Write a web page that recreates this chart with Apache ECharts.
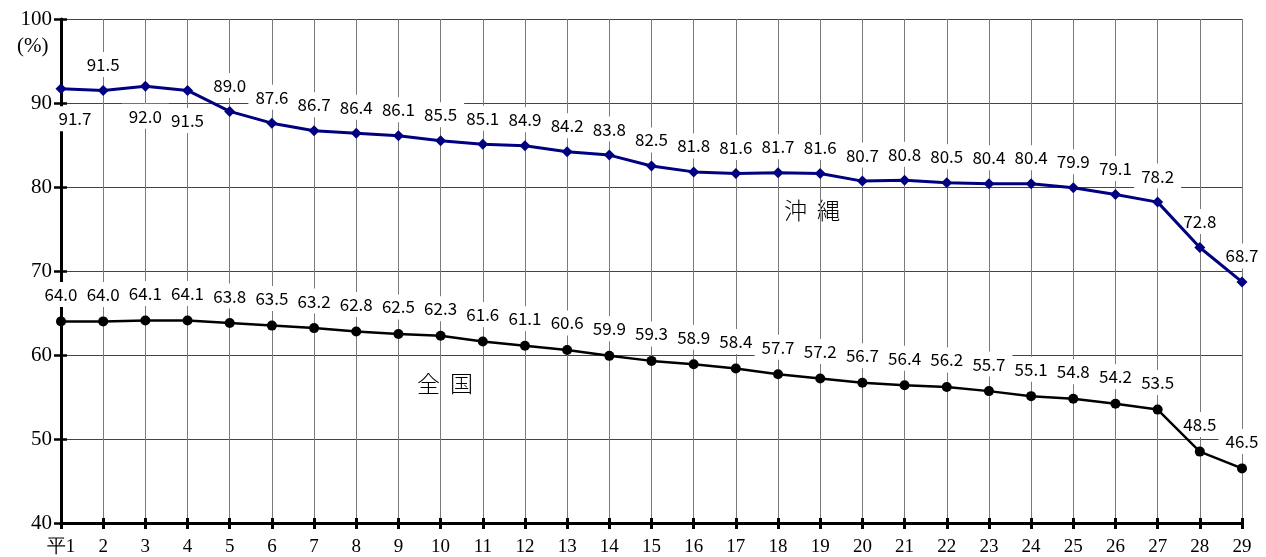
<!DOCTYPE html>
<html><head><meta charset="utf-8">
<script src="https://cdn.jsdelivr.net/npm/echarts@6/dist/echarts.min.js"></script>
<style>html,body{margin:0;padding:0;background:#fff}#c{width:1266px;height:557px}</style>
</head><body><div id="c"></div>
<script>
const categories = ['平1','2','3','4','5','6','7','8','9','10','11','12','13','14','15','16','17','18','19','20','21','22','23','24','25','26','27','28','29'];
const okinawa = [91.7,91.5,92.0,91.5,89.0,87.6,86.7,86.4,86.1,85.5,85.1,84.9,84.2,83.8,82.5,81.8,81.6,81.7,81.6,80.7,80.8,80.5,80.4,80.4,79.9,79.1,78.2,72.8,68.7];
const zenkoku = [64.0,64.0,64.1,64.1,63.8,63.5,63.2,62.8,62.5,62.3,61.6,61.1,60.6,59.9,59.3,58.9,58.4,57.7,57.2,56.7,56.4,56.2,55.7,55.1,54.8,54.2,53.5,48.5,46.5];
const yTicks = {min:40, max:100, interval:10};
const seriesNames = ['沖  縄','全  国'];

const belowIdx = [0,2,3];
const labelBase = {show:true, fontFamily:'Noto Sans CJK JP', fontSize:17, color:'#000', backgroundColor:'#fff', padding:[4,7], formatter:p=>p.value.toFixed(1)};
const okiLabelData = okinawa.map((v,i)=>{
  const item = {value:v};
  if (belowIdx.includes(i)) item.label = {position:'bottom', distance:17, offset: i===0?[14,0]:[0,0]};
  return item;
});
const hidden = {color:'#fff', opacity:1};

const chart = echarts.init(document.getElementById('c'));
chart.setOption({
  animation:false,
  grid:{left:61, right:24, top:19, bottom:32, containLabel:false},
  xAxis:[{
    type:'category', data:categories, boundaryGap:false,
    axisLine:{show:true, lineStyle:{color:'#000', width:3}},
    axisTick:{show:true, inside:false, length:6, alignWithLabel:true, lineStyle:{color:'#000', width:3}},
    axisLabel:{fontFamily:'Liberation Serif', fontSize:19, color:'#000', margin:15, interval:0},
    splitLine:{show:true, lineStyle:{color:'#7a7a7a', width:1}}
  },{
    type:'category', data:categories, boundaryGap:false, position:'bottom',
    axisLine:{show:false},
    axisTick:{show:true, inside:true, length:5, lineStyle:{color:'#000', width:3}},
    axisLabel:{show:false}, splitLine:{show:false}
  }],
  yAxis:[{
    type:'value', min:yTicks.min, max:yTicks.max, interval:yTicks.interval,
    axisLine:{show:true, lineStyle:{color:'#000', width:3}},
    axisTick:{show:true, inside:false, length:7, lineStyle:{color:'#000', width:2.5}},
    axisLabel:{fontFamily:'Liberation Serif', fontSize:21, color:'#000', margin:9},
    splitLine:{show:true, lineStyle:{color:'#444', width:1}}
  },{
    type:'value', min:yTicks.min, max:yTicks.max, interval:yTicks.interval, position:'left',
    axisLine:{show:false},
    axisTick:{show:true, inside:true, length:6, lineStyle:{color:'#000', width:2.5}},
    axisLabel:{show:false}, splitLine:{show:false}
  }],
  graphic:[
    {type:'text', left:17, top:36, style:{text:'(%)', font:'21px "Liberation Serif"', fill:'#000'}},
    {type:'group', left:768, top:188, z:1, children:[
      {type:'rect', shape:{x:0,y:0,width:84,height:46}, style:{fill:'#fff'}},
      {type:'text', x:44, y:22, style:{text:seriesNames[0], font:'300 23px "Noto Sans CJK JP"', fill:'#000', align:'center', verticalAlign:'middle'}}
    ]},
    {type:'group', left:403, top:352, z:1, children:[
      {type:'rect', shape:{x:0,y:0,width:84,height:61}, style:{fill:'#fff'}},
      {type:'text', x:42, y:31, style:{text:seriesNames[1], font:'300 23px "Noto Sans CJK JP"', fill:'#000', align:'center', verticalAlign:'middle'}}
    ]}
  ],
  series:[{
    name:'沖縄ラベル', type:'scatter', data:okiLabelData, symbolSize:1, itemStyle:hidden, silent:true,
    label:Object.assign({}, labelBase, {position:'top', distance:13}), z:2
  },{
    name:'全国ラベル', type:'scatter', data:zenkoku, symbolSize:1, itemStyle:hidden, silent:true,
    label:Object.assign({}, labelBase, {position:'top', distance:14}), z:2
  },{
    name:'沖縄', type:'line', data:okinawa, symbol:'diamond', symbolSize:11,
    lineStyle:{color:'#000080', width:3}, itemStyle:{color:'#000080'}, z:3
  },{
    name:'全国', type:'line', data:zenkoku, symbol:'circle', symbolSize:10,
    lineStyle:{color:'#000', width:2.5}, itemStyle:{color:'#000'}, z:3
  }]
});
</script></body></html>
